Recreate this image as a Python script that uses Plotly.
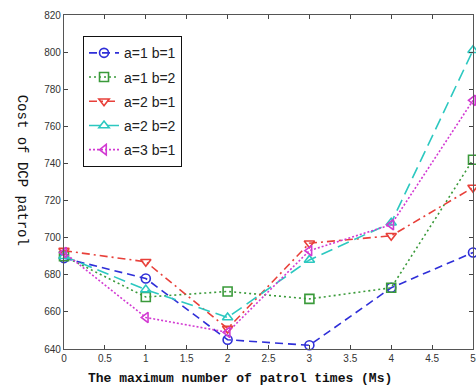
import plotly.graph_objects as go

x_vals = [0, 1, 2, 3, 4, 5]
series_names = ["a=1 b=1", "a=1 b=2", "a=2 b=1", "a=2 b=2", "a=3 b=1"]
s_a1b1 = [689, 678, 645, 642, 673, 692]
s_a1b2 = [690, 668, 671, 667, 673, 742]
s_a2b1 = [693, 687, 651, 697, 701, 727]
s_a2b2 = [690, 672, 657, 688, 708, 801]
s_a3b1 = [692, 657, 649, 693, 707, 774]
x_ticks = [0, 0.5, 1, 1.5, 2, 2.5, 3, 3.5, 4, 4.5, 5]
x_tick_labels = ["0", "0.5", "1", "1.5", "2", "2.5", "3", "3.5", "4", "4.5", "5"]
y_ticks = [640, 660, 680, 700, 720, 740, 760, 780, 800, 820]

series = [s_a1b1, s_a1b2, s_a2b1, s_a2b2, s_a3b1]
colors = ["#2f2fd8", "#3a9a3a", "#e8403a", "#2cc8c0", "#d23ad2"]
dashes = ["8px,5px", "2px,3px", "8px,4px,2px,4px", "12px,6px", "2px,2px"]
symbols = ["circle-open", "square-open", "triangle-down-open", "triangle-up-open", "triangle-left-open"]

fig = go.Figure()
for i, (name, ys) in enumerate(zip(series_names, series)):
    fig.add_trace(go.Scatter(
        x=x_vals, y=ys, name=name, mode="lines+markers",
        legendgroup=f"g{i}",
        line=dict(color=colors[i], width=1.6, dash=dashes[i]),
        marker=dict(symbol=symbols[i], size=9, color=colors[i], line=dict(width=1.6, color=colors[i])),
        cliponaxis=False,
    ))

axis_common = dict(
    showline=True, linecolor="#555555", linewidth=1.2, mirror="allticks",
    ticks="inside", ticklen=4, tickcolor="#444444", tickwidth=1,
    showgrid=False, zeroline=False,
    ticklabeloverflow="allow",
    tickfont=dict(family="Arial, Liberation Sans", size=10, color="#333333"),
)

fig.update_layout(
    width=476, height=389,
    margin=dict(l=64, r=0, t=15, b=40),
    paper_bgcolor="white", plot_bgcolor="white",
    showlegend=True,
    legend=dict(
        x=0.046, y=0.937, xanchor="left", yanchor="top",
        bordercolor="#111111", borderwidth=1.2, bgcolor="white",
        font=dict(family="Arial, Liberation Sans", size=14, color="#222222"),
        tracegroupgap=3,
    ),
    xaxis=dict(range=[0, 5], tickvals=x_ticks, ticktext=x_tick_labels, **axis_common),
    yaxis=dict(range=[640, 820], tickvals=y_ticks, **axis_common),
    annotations=[
        dict(text="<b>The maximum number of patrol times (Ms)</b>", xref="paper", yref="paper",
             x=0.43, y=-0.087, xanchor="center", yanchor="middle", showarrow=False,
             font=dict(family="Liberation Mono, Courier New", size=13, color="#111111")),
        dict(text="Cost of DCP patrol", xref="paper", yref="paper",
             x=-0.102, y=0.536, xanchor="center", yanchor="middle", showarrow=False,
             textangle=90,
             font=dict(family="Liberation Mono, Courier New", size=14, color="#111111")),
    ],
)

fig.write_html("out.html")
